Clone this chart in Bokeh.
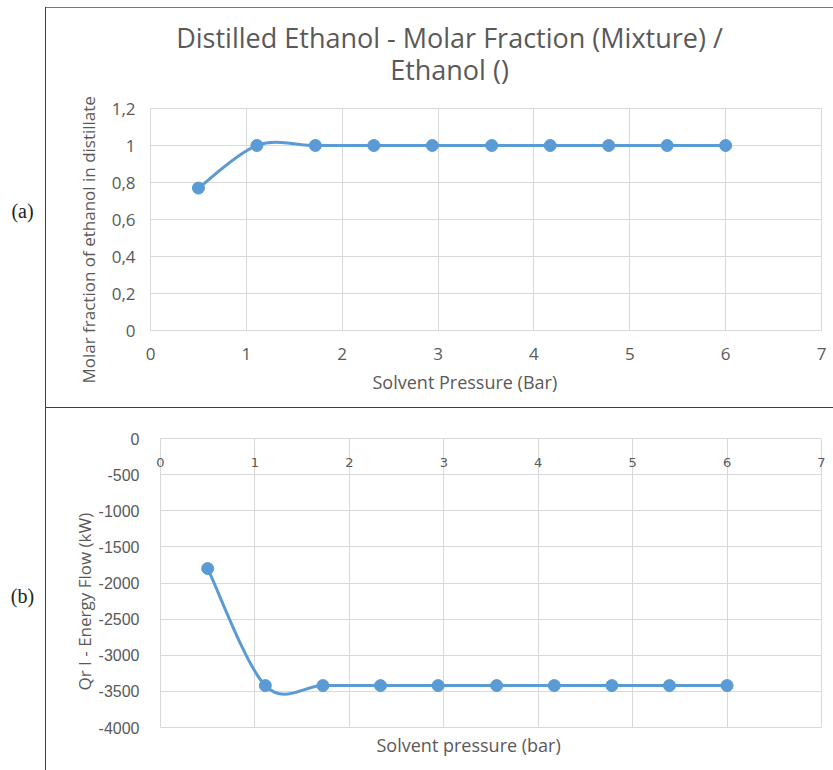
from bokeh.plotting import figure
from bokeh.models import Range1d, FixedTicker, Title, ColumnDataSource, Spacer
from bokeh.layouts import column, row
from bokeh.core.properties import value
from bokeh.embed import file_html
from bokeh.resources import INLINE

# ---- data ----
pressure = [0.5, 1.11, 1.72, 2.33, 2.94, 3.56, 4.17, 4.78, 5.39, 6.0]
ethanol_fraction = [0.77, 1.0, 1.0, 1.0, 1.0, 1.0, 1.0, 1.0, 1.0, 1.0]
energy_flow = [-1800, -3420, -3420, -3420, -3420, -3420, -3420, -3420, -3420, -3420]

x_ticks = [0, 1, 2, 3, 4, 5, 6, 7]
x_tick_labels = ["0", "1", "2", "3", "4", "5", "6", "7"]
ya_ticks = [0, 0.2, 0.4, 0.6, 0.8, 1.0, 1.2]
ya_tick_labels = ["0", "0,2", "0,4", "0,6", "0,8", "1", "1,2"]
yb_ticks = [-4000, -3500, -3000, -2500, -2000, -1500, -1000, -500, 0]
yb_tick_labels = ["-4000", "-3500", "-3000", "-2500", "-2000", "-1500", "-1000", "-500", "0"]

title_lines = ["Distilled Ethanol - Molar Fraction (Mixture) /", "Ethanol ()"]
xa_label = "Solvent Pressure (Bar)"
ya_label = "Molar fraction of ethanol in distillate"
xb_label = "Solvent pressure (bar)"
yb_label = "Qr I - Energy Flow (kW)"
panel_tags = ["(a)", "(b)"]

BLUE = "#5B9BD5"
GRID = "#D9D9D9"
TXT = "#595959"
DARK = "#404040"
TOTAL_H = 770
STRIP_W = 45
COL_W = 787
TITLE_H = 87
HA, HB = 312, 362


def smooth_segments(xs, ys):
    """Excel-like smoothed line: cubic Bezier (Catmull-Rom, 1/6 tension)."""
    n = len(xs)
    seg = dict(x0=[], y0=[], x1=[], y1=[], cx0=[], cy0=[], cx1=[], cy1=[])
    for i in range(n - 1):
        i0 = max(i - 1, 0)
        i3 = min(i + 2, n - 1)
        seg["x0"].append(xs[i]); seg["y0"].append(ys[i])
        seg["x1"].append(xs[i + 1]); seg["y1"].append(ys[i + 1])
        seg["cx0"].append(xs[i] + (xs[i + 1] - xs[i0]) / 6)
        seg["cy0"].append(ys[i] + (ys[i + 1] - ys[i0]) / 6)
        seg["cx1"].append(xs[i + 1] - (xs[i3] - xs[i]) / 6)
        seg["cy1"].append(ys[i + 1] - (ys[i3] - ys[i]) / 6)
    return ColumnDataSource(seg)


def style(p):
    p.title.visible = False
    p.xgrid.grid_line_color = GRID
    p.ygrid.grid_line_color = GRID
    p.outline_line_color = GRID
    p.outline_line_width = 1
    for ax in p.axis:
        ax.axis_line_color = None
        ax.major_tick_line_color = None
        ax.minor_tick_line_color = None
        ax.major_label_text_color = TXT
    p.background_fill_color = "white"
    p.border_fill_color = "white"


def label_title(text, size, offset, standoff):
    return Title(text=text, align="left", offset=offset, standoff=standoff,
                 text_font="Open Sans", text_font_size=size, text_font_style="normal",
                 text_color=TXT)


def blank_fig(w, h, xr, yr):
    f = figure(width=w, height=h, output_backend="svg", toolbar_location=None,
               x_range=Range1d(*xr), y_range=Range1d(*yr),
               x_axis_type=None, y_axis_type=None,
               min_border=0, min_border_left=0, min_border_right=0,
               min_border_top=0, min_border_bottom=0)
    f.title.visible = False
    f.outline_line_color = None
    f.xgrid.visible = False
    f.ygrid.visible = False
    f.background_fill_color = "white"
    f.border_fill_color = "white"
    return f


# ---- title block (x from 47 to 833 in page pixels) ----
tfig = blank_fig(COL_W - 1, TITLE_H, (47, 833), (95, 8))
tfig.text(x=[449, 449], y=[37, 69], text=title_lines,
          text_font=value("Open Sans"), text_font_size="27px", text_color=TXT,
          text_align="center", text_baseline="middle")

# ---- panel (a) ----
pa = figure(width=COL_W, height=HA, output_backend="svg", toolbar_location=None,
            x_range=Range1d(0, 7), y_range=Range1d(0, 1.2),
            min_border_left=104, min_border_right=12, min_border_top=13,
            min_border_bottom=77)
style(pa)
pa.xaxis.ticker = FixedTicker(ticks=x_ticks)
pa.yaxis.ticker = FixedTicker(ticks=ya_ticks)
pa.xgrid.ticker = FixedTicker(ticks=x_ticks)
pa.ygrid.ticker = FixedTicker(ticks=ya_ticks)
pa.xaxis.major_label_overrides = dict(zip(x_ticks, x_tick_labels))
pa.yaxis.major_label_overrides = dict(zip(ya_ticks, ya_tick_labels))
for ax in pa.axis:
    ax.major_label_text_font = "Open Sans"
    ax.major_label_text_font_size = "17px"
pa.xaxis.major_label_standoff = 11
pa.yaxis.major_label_standoff = 9

pa.bezier(x0="x0", y0="y0", x1="x1", y1="y1", cx0="cx0", cy0="cy0", cx1="cx1", cy1="cy1",
          source=smooth_segments(pressure, ethanol_fraction), line_color=BLUE, line_width=3)
pa.scatter(pressure, ethanol_fraction, size=12, color=BLUE)

pa.add_layout(label_title(xa_label, "18px", offset=222, standoff=10), "below")
pa.add_layout(label_title(ya_label, "17px", offset=-53, standoff=17), "left")

# ---- panel (b) ----
pb = figure(width=COL_W - 10, height=HB, output_backend="svg", toolbar_location=None,
            x_range=Range1d(0, 7), y_range=Range1d(-4000, 0), x_axis_location="above",
            min_border_left=104, min_border_right=12, min_border_top=30,
            min_border_bottom=43)
style(pb)
pb.xaxis.ticker = FixedTicker(ticks=x_ticks)
pb.yaxis.ticker = FixedTicker(ticks=yb_ticks)
pb.xgrid.ticker = FixedTicker(ticks=x_ticks)
pb.ygrid.ticker = FixedTicker(ticks=yb_ticks)
pb.xaxis.major_label_overrides = dict(zip(x_ticks, x_tick_labels))
pb.yaxis.major_label_overrides = dict(zip(yb_ticks, yb_tick_labels))
pb.xaxis.major_label_text_font = "DejaVu Sans"
pb.xaxis.major_label_text_font_size = "13px"
pb.xaxis.major_label_standoff = -34
pb.yaxis.major_label_text_font = "Liberation Sans"
pb.yaxis.major_label_text_font_size = "16px"
pb.yaxis.major_label_standoff = 15

pb.bezier(x0="x0", y0="y0", x1="x1", y1="y1", cx0="cx0", cy0="cy0", cx1="cx1", cy1="cy1",
          source=smooth_segments(pressure, energy_flow), line_color=BLUE, line_width=3)
pb.scatter(pressure, energy_flow, size=12, color=BLUE)

pb.add_layout(label_title(xb_label, "18px", offset=216, standoff=7), "below")
pb.add_layout(label_title(yb_label, "17px", offset=37, standoff=0), "left")

# ---- left strip with panel tags ----
strip = blank_fig(STRIP_W, TOTAL_H, (0, STRIP_W), (TOTAL_H, 0))
strip.text(x=[22, 22], y=[210, 595], text=panel_tags,
           text_font=value("Liberation Serif"), text_font_size="20px",
           text_color="#222222", text_align="center", text_baseline="middle")

vline = column(Spacer(width=1, height=7),
               Spacer(width=1, height=TOTAL_H - 7, styles={"background-color": DARK}),
               spacing=0)
right = column(Spacer(width=COL_W, height=7),
               Spacer(width=COL_W, height=1, styles={"background-color": "#7a7a7a"}),
               row(Spacer(width=1, height=TITLE_H), tfig, spacing=0),
               pa,
               Spacer(width=COL_W, height=1, styles={"background-color": DARK}),
               row(Spacer(width=10, height=HB), pb, spacing=0),
               spacing=0)

layout = row(strip, vline, right, spacing=0)
open("out.html", "w").write(file_html(layout, INLINE))
